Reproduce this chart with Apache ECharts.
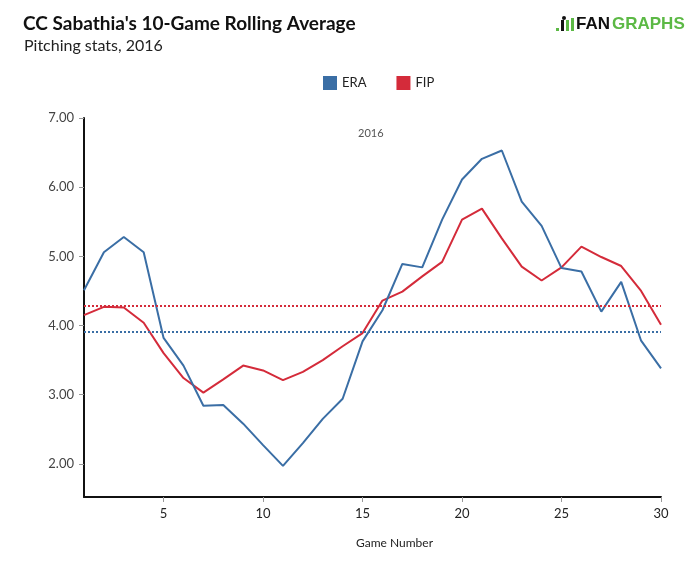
<!DOCTYPE html>
<html>
<head>
<meta charset="utf-8">
<script src="https://cdn.jsdelivr.net/npm/echarts@6/dist/echarts.min.js"></script>
<style>
html,body{margin:0;padding:0;background:#fff;}
#chart{width:700px;height:568px;}
</style>
</head>
<body>
<div id="chart"></div>
<script>
var games = [1,2,3,4,5,6,7,8,9,10,11,12,13,14,15,16,17,18,19,20,21,22,23,24,25,26,27,28,29,30];
var eraValues = [4.51,5.06,5.28,5.06,3.82,3.42,2.84,2.85,2.58,2.27,1.97,2.30,2.65,2.94,3.77,4.22,4.89,4.84,5.53,6.11,6.41,6.53,5.79,5.44,4.83,4.78,4.20,4.63,3.78,3.38];
var fipValues = [4.15,4.27,4.26,4.04,3.60,3.24,3.03,3.22,3.42,3.35,3.21,3.33,3.50,3.70,3.89,4.36,4.49,4.71,4.92,5.53,5.69,5.26,4.85,4.65,4.84,5.14,4.99,4.86,4.50,4.01];
var seasonERA = 3.91;
var seasonFIP = 4.28;
var xTicks = [5,10,15,20,25,30];
var yTicks = [2,3,4,5,6,7];

var BLUE = '#3a6ea5';
var RED = '#d42b3a';

function pairs(vals){ return games.map(function(g,i){ return [g, vals[i]]; }); }

var chart = echarts.init(document.getElementById('chart'));
chart.setOption({
  animation: false,
  backgroundColor: '#fff',
  textStyle: { fontFamily: 'Lato' },
  title: [
    { text: "CC Sabathia's 10-Game Rolling Average", left: 18, top: 9,
      textStyle: { fontFamily: 'Lato', fontSize: 19, fontWeight: 'bold', color: '#111' } },
    { text: 'Pitching stats, 2016', left: 19, top: 33,
      textStyle: { fontFamily: 'Lato', fontSize: 16, fontWeight: 'normal', color: '#222' } },
    { text: '2016', left: 353, top: 123,
      textStyle: { fontFamily: 'Lato', fontSize: 11, fontWeight: 'normal', color: '#555' } }
  ],
  legend: {
    top: 71, left: 318,
    itemWidth: 14, itemHeight: 14, itemGap: 30,
    icon: 'rect',
    textStyle: { fontFamily: 'Lato', fontSize: 13, color: '#222' },
    data: ['ERA','FIP']
  },
  grid: { left: 84, right: 39, top: 118, bottom: 71 },
  xAxis: {
    type: 'value', min: 1, max: 30,
    axisLine: { lineStyle: { color: '#111', width: 2 } },
    axisTick: { show: true, length: 5, customValues: xTicks, lineStyle: { color: '#999' } },
    axisLabel: { customValues: xTicks, fontFamily: 'Lato', fontSize: 13, color: '#222', margin: 10 },
    splitLine: { show: false }
  },
  yAxis: {
    type: 'value', min: 1.52, max: 7,
    axisLine: { show: true, lineStyle: { color: '#111', width: 2 } },
    axisTick: { show: true, length: 5, customValues: yTicks, lineStyle: { color: '#999' } },
    axisLabel: { customValues: yTicks, fontFamily: 'Lato', fontSize: 13, color: '#444', margin: 10,
      formatter: function(v){ return v.toFixed(2); } },
    splitLine: { show: false }
  },
  series: [
    { name: 'ERA', type: 'line', data: pairs(eraValues), symbol: 'none',
      itemStyle: { color: BLUE }, lineStyle: { color: BLUE, width: 2 },
      markLine: { silent: true, symbol: 'none', label: { show: false },
        lineStyle: { color: BLUE, type: [2,2], width: 2 },
        data: [{ yAxis: seasonERA }] }, z: 3 },
    { name: 'FIP', type: 'line', data: pairs(fipValues), symbol: 'none',
      itemStyle: { color: RED }, lineStyle: { color: RED, width: 2 },
      markLine: { silent: true, symbol: 'none', label: { show: false },
        lineStyle: { color: RED, type: [2,2], width: 2 },
        data: [{ yAxis: seasonFIP }] }, z: 2 }
  ],
  graphic: [
    { type: 'text', left: 'center', top: 537, style: { x: 0, y: 0, text: 'Game Number',
      font: '12px Lato', fill: '#222' }, left: 356 },
    { type: 'group', left: 556, top: 16, children: [
      { type: 'rect', shape: { x: 0, y: 12, width: 3, height: 3 }, style: { fill: '#5cb945' } },
      { type: 'rect', shape: { x: 5, y: 4, width: 3, height: 11 }, style: { fill: '#111' } },
      { type: 'circle', shape: { cx: 8, cy: 2, r: 2 }, style: { fill: '#111' } },
      { type: 'rect', shape: { x: 10, y: 4, width: 3, height: 11 }, style: { fill: '#5cb945' } },
      { type: 'rect', shape: { x: 15, y: 2, width: 3, height: 13 }, style: { fill: '#5cb945' } },
      { type: 'text', style: { x: 20, y: 0, text: 'FAN', font: 'bold 17px "Liberation Sans", Arial', fill: '#111' } },
      { type: 'text', style: { x: 56, y: 0, text: 'GRAPHS', font: 'bold 17px "Liberation Sans", Arial', fill: '#5cb945' } }
    ]}
  ]
});
</script>
</body>
</html>
